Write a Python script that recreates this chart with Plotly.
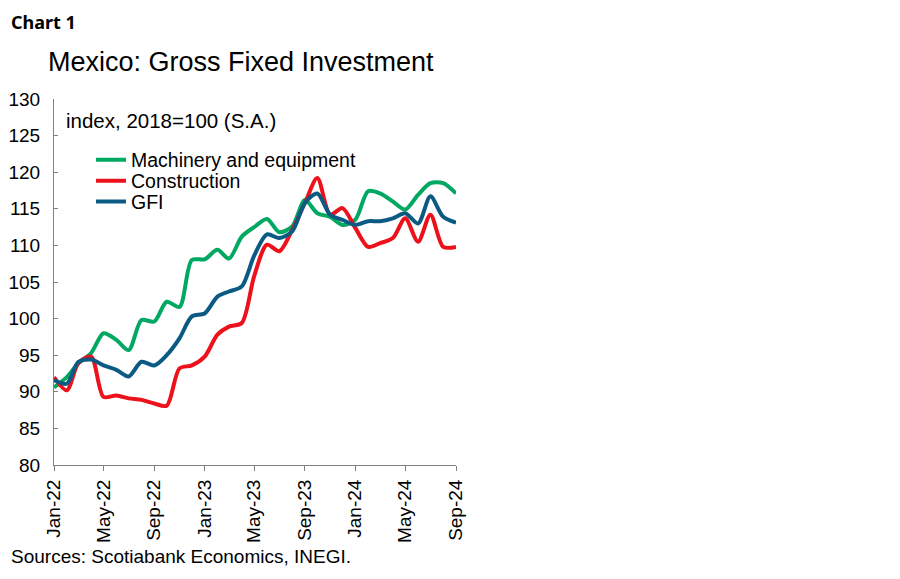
"""Mexico: Gross Fixed Investment, index 2018=100 (S.A.)."""

import pandas as pd
import plotly.graph_objects as go

MONTHS = pd.date_range("2022-01-01", "2024-09-01", freq="MS")

MACHINERY = [90.6, 92.0, 93.9, 95.3, 98.0, 97.1, 95.7, 99.8, 99.6, 102.3, 101.6,
             108.0, 108.1, 109.4, 108.2, 111.2, 112.5, 113.6, 111.8, 112.6, 116.2,
             114.4, 113.9, 112.8, 113.5, 117.4, 117.1, 116.0, 114.9, 116.9, 118.5,
             118.5, 117.1]
CONSTRUCTION = [92.0, 90.2, 93.9, 94.8, 89.3, 89.5, 89.1, 88.9, 88.4, 88.1, 93.2,
                93.6, 94.8, 97.8, 98.9, 99.4, 105.8, 110.1, 109.2, 112.1, 115.8,
                119.2, 114.2, 115.1, 112.4, 109.8, 110.3, 111.0, 113.7, 110.5, 114.2,
                109.8, 109.8]
GFI = [91.6, 91.1, 94.1, 94.4, 93.6, 93.0, 92.1, 94.1, 93.6, 95.0, 97.3,
       100.3, 100.7, 103.0, 103.7, 104.4, 108.6, 111.5, 111.0, 111.9, 115.8,
       117.1, 114.2, 113.5, 112.8, 113.3, 113.3, 113.7, 114.4, 113.0, 116.7,
       113.9, 113.1]

# (name, values, colour, legend id, legend row y in paper coords)
SERIES = [
    ("Machinery and equipment", MACHINERY, "#00A862", "legend", 0.833),
    ("Construction", CONSTRUCTION, "#EC111A", "legend2", 0.776),
    ("GFI", GFI, "#0B5A84", "legend3", 0.719),
]

TICK_MONTHS = MONTHS[::4]
TICK_TEXT = [d.strftime("%b-%y") for d in TICK_MONTHS]

FONT = "Liberation Sans, Arial, sans-serif"


def main():
    fig = go.Figure()

    legends = {}
    for name, values, color, legend_id, row_y in SERIES:
        fig.add_trace(go.Scatter(
            x=MONTHS,
            y=values,
            mode="lines",
            name=name,
            legend=legend_id,
            line=dict(color=color, width=4, shape="spline", smoothing=0.8),
        ))
        # one legend per series so the row spacing can match the original
        legends[legend_id] = dict(
            x=0.092, y=row_y, xanchor="left", yanchor="middle",
            bgcolor="rgba(0,0,0,0)",
            font=dict(size=19.5),
            itemwidth=30,
        )

    fig.update_layout(
        width=900,
        height=579,
        paper_bgcolor="white",
        plot_bgcolor="white",
        margin=dict(l=46, r=452, t=91, b=122, autoexpand=False),
        font=dict(family=FONT, size=19, color="black"),
        showlegend=True,
        xaxis=dict(
            range=[MONTHS[0], MONTHS[-1]],
            tickvals=TICK_MONTHS,
            ticktext=TICK_TEXT,
            tickangle=-90,
            ticks="outside",
            ticklen=5,
            tickcolor="#808080",
            showline=True,
            linecolor="#808080",
            linewidth=1,
            showgrid=False,
            zeroline=False,
            tickfont=dict(size=19),
            ticklabelstandoff=1,
            automargin=False,
        ),
        yaxis=dict(
            range=[80, 130],
            dtick=5,
            ticks="inside",
            ticklen=4,
            tickcolor="#808080",
            showline=True,
            linecolor="#808080",
            linewidth=1,
            showgrid=False,
            zeroline=False,
            tickfont=dict(size=19),
            ticklabelstandoff=9,
            automargin=False,
        ),
        annotations=[
            dict(text="<b>Chart 1</b>", xref="paper", yref="paper",
                 x=-0.112, y=1.211, xanchor="left", yanchor="middle",
                 showarrow=False,
                 font=dict(family="Noto Sans, sans-serif", size=18)),
            dict(text="Mexico: Gross Fixed Investment", xref="paper", yref="paper",
                 x=-0.02, y=1.101, xanchor="left", yanchor="middle",
                 showarrow=False, font=dict(size=27)),
            dict(text="index, 2018=100 (S.A.)", xref="paper", yref="paper",
                 x=0.025, y=0.94, xanchor="left", yanchor="middle",
                 showarrow=False, font=dict(size=20.5)),
            dict(text="Sources: Scotiabank Economics, INEGI.", xref="paper",
                 yref="paper", x=-0.112, y=-0.249, xanchor="left",
                 yanchor="middle", showarrow=False, font=dict(size=19)),
        ],
        **legends,
    )

    fig.write_html("out.html")


if __name__ == "__main__":
    main()
